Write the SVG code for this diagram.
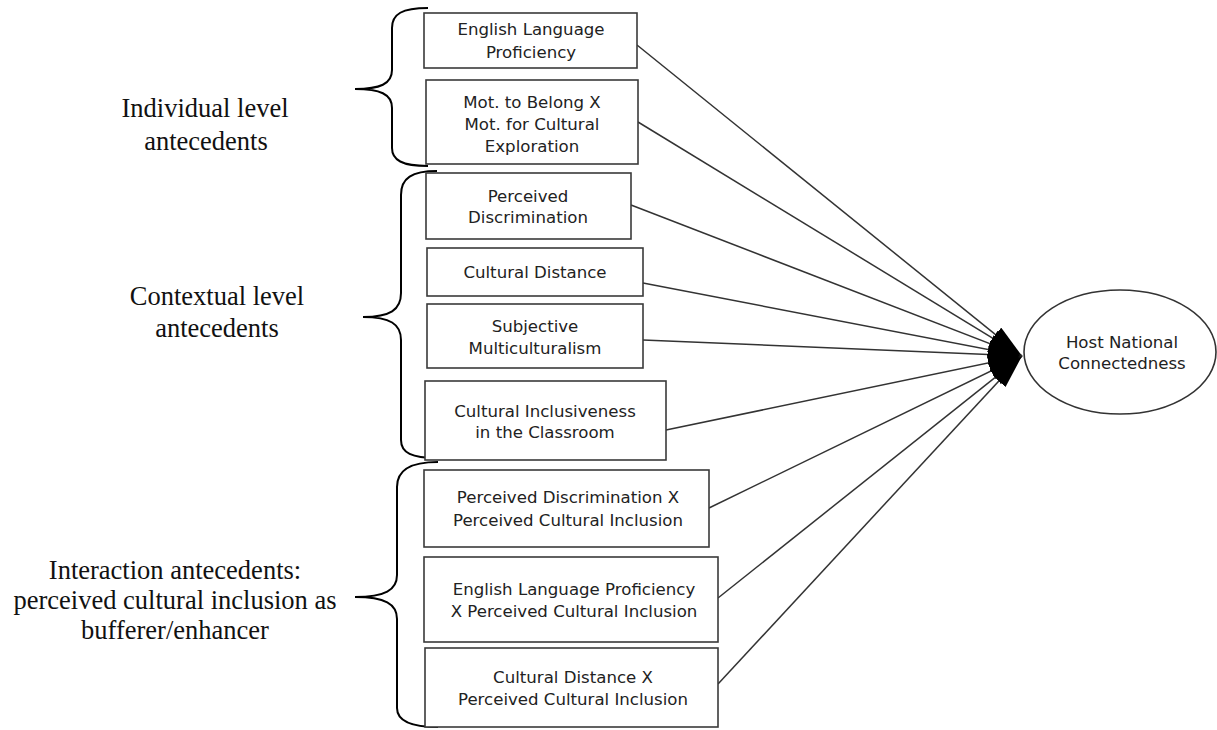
<svg xmlns="http://www.w3.org/2000/svg" width="1217" height="730" viewBox="0 0 1217 730">
<style>
.box{fill:#fff;stroke:#3a3a3a;stroke-width:1.6}
.bt{font-family:"DejaVu Sans","Liberation Sans",sans-serif;font-size:16.6px;fill:#222;text-anchor:middle}
.lab{font-family:"Liberation Serif","Times New Roman",serif;font-size:26.5px;fill:#111;text-anchor:middle}
.brace{fill:none;stroke:#000;stroke-width:2}
.conn{stroke:#333;stroke-width:1.5;fill:none;marker-end:url(#ah)}
</style>
<defs>
<marker id="ah" viewBox="0 0 34 18" refX="34" refY="9" markerWidth="34" markerHeight="18" markerUnits="userSpaceOnUse" orient="auto">
<path d="M0,0 L34,9 L0,18 z" fill="#000"/>
</marker>
</defs>
<rect width="1217" height="730" fill="#fff"/>
<g id="labels">
<text class="lab" x="205" y="117">Individual level</text>
<text class="lab" x="206" y="150">antecedents</text>
<text class="lab" x="217" y="305">Contextual level</text>
<text class="lab" x="217" y="337">antecedents</text>
<text class="lab" x="175" y="579">Interaction antecedents:</text>
<text class="lab" x="175" y="609">perceived cultural inclusion as</text>
<text class="lab" x="175" y="639">bufferer/enhancer</text>
</g>
<g id="braces">
<path class="brace" d="M428,8 C402,8 392,14 392,28 L392,70 C392,84 380,89 355,89 C380,89 392,94 392,108 L392,148 C392,160 402,166 428,166"/>
<path class="brace" d="M437,171 C412,171 401,178 401,195 L401,293 C401,310 390,317 363,317 C390,317 401,324 401,340 L401,440 C401,453 412,458 437,458"/>
<path class="brace" d="M438,462 C410,462 397,470 397,487 L397,575 C397,590 385,597 355,597 C385,597 397,604 397,619 L397,708 C397,721 410,727 438,727"/>
</g>
<g id="connectors">
<line class="conn" x1="637" y1="45" x2="1022" y2="356"/>
<line class="conn" x1="638" y1="122" x2="1022" y2="356"/>
<line class="conn" x1="631" y1="205" x2="1022" y2="356"/>
<line class="conn" x1="643" y1="283" x2="1022" y2="356"/>
<line class="conn" x1="643" y1="340" x2="1022" y2="356"/>
<line class="conn" x1="666" y1="430" x2="1022" y2="356"/>
<line class="conn" x1="709" y1="508" x2="1022" y2="356"/>
<line class="conn" x1="718" y1="598" x2="1022" y2="356"/>
<line class="conn" x1="718" y1="684" x2="1022" y2="356"/>
</g>
<g id="n1"><rect class="box" x="424" y="13" width="213" height="55"/>
<text class="bt" x="531" y="35">English Language</text><text class="bt" x="531" y="58">Proficiency</text></g>
<g id="n2"><rect class="box" x="426" y="80" width="212" height="84"/>
<text class="bt" x="532" y="108">Mot. to Belong X</text><text class="bt" x="532" y="130">Mot. for Cultural</text><text class="bt" x="532" y="152">Exploration</text></g>
<g id="n3"><rect class="box" x="426" y="173" width="205" height="66"/>
<text class="bt" x="528" y="202">Perceived</text><text class="bt" x="528" y="223">Discrimination</text></g>
<g id="n4"><rect class="box" x="427" y="248" width="216" height="48"/>
<text class="bt" x="535" y="278">Cultural Distance</text></g>
<g id="n5"><rect class="box" x="427" y="304" width="216" height="64"/>
<text class="bt" x="535" y="332">Subjective</text><text class="bt" x="535" y="354">Multiculturalism</text></g>
<g id="n6"><rect class="box" x="425" y="381" width="241" height="79"/>
<text class="bt" x="545" y="417">Cultural Inclusiveness</text><text class="bt" x="545" y="438">in the Classroom</text></g>
<g id="n7"><rect class="box" x="424" y="470" width="285" height="77"/>
<text class="bt" x="568" y="503">Perceived Discrimination X</text><text class="bt" x="568" y="526">Perceived Cultural Inclusion</text></g>
<g id="n8"><rect class="box" x="424" y="557" width="294" height="85"/>
<text class="bt" x="574" y="595">English Language Proficiency</text><text class="bt" x="574" y="617">X Perceived Cultural Inclusion</text></g>
<g id="n9"><rect class="box" x="425" y="648" width="293" height="79"/>
<text class="bt" x="573" y="683">Cultural Distance X</text><text class="bt" x="573" y="705">Perceived Cultural Inclusion</text></g>
<g id="n10"><ellipse cx="1120" cy="352" rx="96" ry="62" fill="#fff" stroke="#333" stroke-width="1.6"/>
<text class="bt" x="1122" y="348">Host National</text><text class="bt" x="1122" y="369">Connectedness</text></g>
</svg>
